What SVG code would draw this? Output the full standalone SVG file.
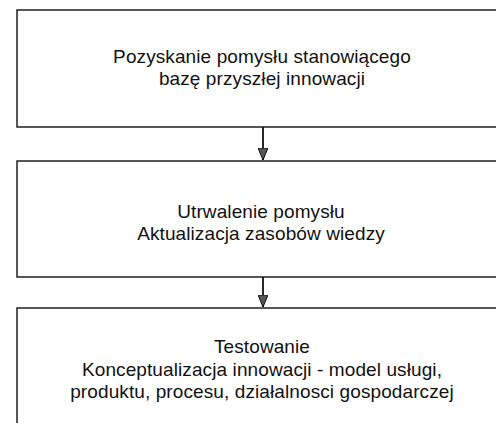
<svg xmlns="http://www.w3.org/2000/svg" width="496" height="423" viewBox="0 0 496 423">
<style>
.box{fill:#fff;stroke:#111;stroke-width:1.4}
.lbl{font-family:"Liberation Sans",Arial,sans-serif;font-size:19px;letter-spacing:0.1px;fill:#111;text-anchor:middle}
.con{stroke:#111;stroke-width:1.8;fill:none}
</style>
<defs>
<marker id="arr" markerWidth="12" markerHeight="10" refX="12" refY="5" orient="auto" markerUnits="userSpaceOnUse" viewBox="0 0 12 10">
<path d="M0,0 L12,5 L0,10 Z" fill="#555" stroke="#111" stroke-width="1"/>
</marker>
</defs>
<rect width="496" height="423" fill="#fff"/>
<g id="node1">
<rect class="box" x="17" y="10" width="500" height="117"/>
<text class="lbl" x="262" y="63">Pozyskanie pomysłu stanowiącego</text>
<text class="lbl" x="262" y="85">bazę przyszłej innowacji</text>
</g>
<g id="node2">
<rect class="box" x="17" y="161" width="500" height="116"/>
<text class="lbl" x="261" y="218">Utrwalenie pomysłu</text>
<text class="lbl" x="261" y="240">Aktualizacja zasobów wiedzy</text>
</g>
<g id="node3">
<rect class="box" x="17" y="308" width="500" height="130"/>
<text class="lbl" x="262" y="353">Testowanie</text>
<text class="lbl" x="262" y="376">Konceptualizacja innowacji - model usługi,</text>
<text class="lbl" x="262" y="398">produktu, procesu, działalnosci gospodarczej</text>
</g>
<g id="connectors">
<line class="con" x1="263" y1="127" x2="263" y2="160" marker-end="url(#arr)"/>
<line class="con" x1="263" y1="277" x2="263" y2="307" marker-end="url(#arr)"/>
</g>
</svg>
